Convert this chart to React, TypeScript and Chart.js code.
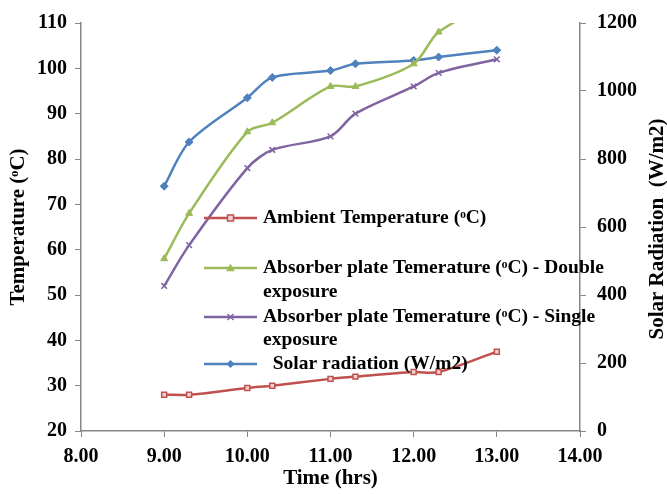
import React, { useEffect, useRef } from 'react';
import { Chart, registerables } from 'chart.js';

Chart.register(...registerables);

// Time of day (hrs, as plotted: 9.30 -> 9.3)
const times = [9, 9.3, 10, 10.3, 11, 11.3, 12, 12.3, 13];
const ambientTemp = [28, 28, 29.5, 30, 31.5, 32, 33, 33, 37.5];
const doubleExposure = [58, 68, 86, 88, 96, 96, 101, 108, 115];
const singleExposure = [52, 61, 78, 82, 85, 90, 96, 99, 102];
const solarRadiation = [720, 850, 980, 1040, 1060, 1080, 1090, 1100, 1120];

const legendLabels: string[][] = [
  ['Ambient Temperature (ᵒC)'],
  ['Absorber plate Temerature (ᵒC) - Double', 'exposure'],
  ['Absorber plate Temerature (ᵒC) - Single', 'exposure'],
  ['  Solar radiation (W/m2)'],
];

const rightAxisTitle = 'Solar Radiation  (W/m2)';

const COLORS = {
  red: '#C0504D',
  green: '#9BBB59',
  purple: '#8064A2',
  blue: '#4F81BD',
  axis: '#868686',
};

const SERIF = '"Liberation Serif", "Times New Roman", serif';

function toPoints(ys: number[]) {
  return times.map((t, i) => ({ x: t, y: ys[i] }));
}

function drawMarker(ctx: CanvasRenderingContext2D, style: string, x: number, y: number, stroke: string, fill: string) {
  const r = 3;
  ctx.save();
  ctx.lineWidth = 1.5;
  ctx.strokeStyle = stroke;
  ctx.fillStyle = fill;
  ctx.beginPath();
  if (style === 'rect') {
    ctx.rect(x - r, y - r, 2 * r, 2 * r);
    ctx.fill();
    ctx.stroke();
  } else if (style === 'triangle') {
    ctx.moveTo(x, y - r);
    ctx.lineTo(x + r, y + r * 0.8);
    ctx.lineTo(x - r, y + r * 0.8);
    ctx.closePath();
    ctx.fill();
    ctx.stroke();
  } else if (style === 'crossRot') {
    ctx.moveTo(x - r, y - r);
    ctx.lineTo(x + r, y + r);
    ctx.moveTo(x + r, y - r);
    ctx.lineTo(x - r, y + r);
    ctx.stroke();
  } else {
    ctx.moveTo(x, y - r);
    ctx.lineTo(x + r, y);
    ctx.lineTo(x, y + r);
    ctx.lineTo(x - r, y);
    ctx.closePath();
    ctx.fill();
    ctx.stroke();
  }
  ctx.restore();
}

const legendPlugin = {
  id: 'customLegend',
  afterDatasetsDraw(chart: any) {
    const ctx = chart.ctx;
    const area = chart.chartArea;
    const lineX0 = area.left + 123;
    const lineX1 = area.left + 176;
    const textX = area.left + 182;
    const rows = [[218], [268, 292], [317, 340], [364]];
    ctx.save();
    ctx.font = 'bold 19.5px "Liberation Serif", serif';
    ctx.textBaseline = 'middle';
    ctx.textAlign = 'left';
    chart.data.datasets.forEach((ds: any, i: number) => {
      const ys = rows[i];
      const y0 = ys[0];
      ctx.strokeStyle = ds.borderColor;
      ctx.lineWidth = 2.5;
      ctx.beginPath();
      ctx.moveTo(lineX0, y0);
      ctx.lineTo(lineX1, y0);
      ctx.stroke();
      drawMarker(ctx, ds.pointStyle, (lineX0 + lineX1) / 2, y0, ds.borderColor, ds.pointBackgroundColor);
      ctx.fillStyle = '#000';
      legendLabels[i].forEach((line, k) => {
        ctx.fillText(line, textX, ys[k]);
      });
    });
    ctx.restore();
  },
  afterDraw(chart: any) {
    const ctx = chart.ctx;
    const area = chart.chartArea;
    ctx.save();
    ctx.font = 'bold 21px "Liberation Serif", serif';
    ctx.fillStyle = '#000';
    ctx.textAlign = 'center';
    ctx.textBaseline = 'middle';
    ctx.translate(chart.width - 9, (area.top + area.bottom) / 2 + 2);
    ctx.rotate(-Math.PI / 2);
    ctx.fillText(rightAxisTitle, 0, 0);
    ctx.restore();
  },
};

export default function App() {
  const canvasRef = useRef<HTMLCanvasElement | null>(null);

  useEffect(() => {
    document.body.style.margin = '0';
    const canvas = canvasRef.current;
    if (!canvas) return;

    const tickFont = { family: SERIF, size: 20, weight: 'bold' as const };
    const titleFont = { family: SERIF, size: 21, weight: 'bold' as const };

    const chart = new Chart(canvas, {
      type: 'line',
      data: {
        datasets: [
          {
            label: legendLabels[0].join(' '),
            data: toPoints(ambientTemp),
            yAxisID: 'y',
            borderColor: COLORS.red,
            backgroundColor: COLORS.red,
            pointStyle: 'rect',
            pointRadius: 3.5,
            pointBorderWidth: 1.5,
            pointBackgroundColor: '#F2D3D2',
            pointBorderColor: COLORS.red,
            borderWidth: 2.5,
            tension: 0.3,
          },
          {
            label: legendLabels[1].join(' '),
            data: toPoints(doubleExposure),
            yAxisID: 'y',
            borderColor: COLORS.green,
            backgroundColor: COLORS.green,
            pointStyle: 'triangle',
            pointRadius: 4,
            pointBorderWidth: 1,
            pointBackgroundColor: COLORS.green,
            pointBorderColor: COLORS.green,
            borderWidth: 2.5,
            tension: 0.3,
          },
          {
            label: legendLabels[2].join(' '),
            data: toPoints(singleExposure),
            yAxisID: 'y',
            borderColor: COLORS.purple,
            backgroundColor: COLORS.purple,
            pointStyle: 'crossRot',
            pointRadius: 4,
            pointBorderWidth: 1.5,
            pointBackgroundColor: COLORS.purple,
            pointBorderColor: COLORS.purple,
            borderWidth: 2.5,
            tension: 0.3,
          },
          {
            label: legendLabels[3].join(' '),
            data: toPoints(solarRadiation),
            yAxisID: 'y1',
            borderColor: COLORS.blue,
            backgroundColor: COLORS.blue,
            pointStyle: 'rectRot',
            pointRadius: 4,
            pointBorderWidth: 1,
            pointBackgroundColor: COLORS.blue,
            pointBorderColor: COLORS.blue,
            borderWidth: 2.5,
            tension: 0.3,
          },
        ],
      },
      options: {
        animation: false,
        responsive: false,
        maintainAspectRatio: false,
        layout: { padding: { top: 21, right: 0, left: 0, bottom: 0 } },
        plugins: {
          legend: { display: false },
          tooltip: { enabled: false },
        },
        scales: {
          x: {
            type: 'linear',
            min: 8,
            max: 14,
            ticks: {
              stepSize: 1,
              color: '#000',
              font: tickFont,
              padding: 8,
              maxRotation: 0,
              callback: (v: any) => Number(v).toFixed(2),
            },
            grid: {
              drawOnChartArea: false,
              drawTicks: true,
              tickLength: 6,
              color: COLORS.axis,
            },
            border: { color: COLORS.axis, width: 1.5 },
            title: {
              display: true,
              text: 'Time (hrs)',
              color: '#000',
              font: { ...titleFont, lineHeight: 1.2 },
              padding: { top: 0, bottom: 2.4 },
            },
            afterFit: (scale: any) => {
              scale.height = 63;
            },
          },
          y: {
            type: 'linear',
            position: 'left',
            min: 20,
            max: 110,
            ticks: {
              stepSize: 10,
              color: '#000',
              font: tickFont,
              padding: 8,
              callback: (v: any) => String(v),
            },
            grid: {
              drawOnChartArea: false,
              drawTicks: true,
              tickLength: 6,
              color: COLORS.axis,
            },
            border: { color: COLORS.axis, width: 1.5 },
            title: {
              display: true,
              text: 'Temperature (ᵒC)',
              color: '#000',
              font: { ...titleFont, lineHeight: 1.2 },
              padding: { top: 6.4, bottom: 0 },
            },
            afterFit: (scale: any) => {
              scale.width = 81;
            },
          },
          y1: {
            type: 'linear',
            position: 'right',
            min: 0,
            max: 1200,
            ticks: {
              stepSize: 200,
              color: '#000',
              font: tickFont,
              padding: 11,
              callback: (v: any) => String(v),
            },
            grid: {
              drawOnChartArea: false,
              drawTicks: true,
              tickLength: 6,
              color: COLORS.axis,
            },
            border: { color: COLORS.axis, width: 1.5 },
            title: { display: false },
            afterFit: (scale: any) => {
              scale.width = 87;
            },
          },
        },
      },
      plugins: [legendPlugin],
    });

    return () => chart.destroy();
  }, []);

  return (
    <div style={{ width: 667, height: 494, background: '#fff' }}>
      <canvas ref={canvasRef} width={667} height={494} style={{ display: 'block' }} />
    </div>
  );
}
